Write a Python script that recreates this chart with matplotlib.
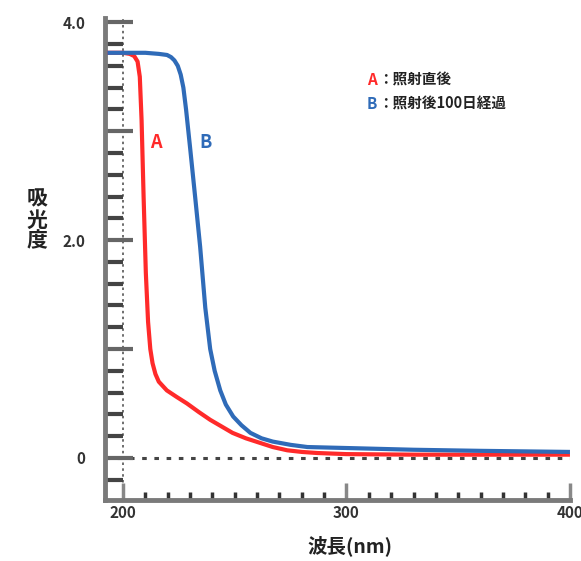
import matplotlib
matplotlib.use("Agg")
import matplotlib.pyplot as plt
from matplotlib.ticker import MultipleLocator, FixedLocator

plt.rcParams['font.family'] = ['Noto Sans CJK JP', 'DejaVu Sans']

# Data
wl_a = [193, 200, 203, 205, 206.5, 207.5, 208.3, 209.2, 210.2, 211.2, 212.2, 213.2, 214.5, 216, 219.6, 224, 228.6, 234, 239, 244, 249, 255, 261, 267, 273.5, 280, 287, 300, 330, 360, 400]
abs_a = [3.72, 3.72, 3.71, 3.69, 3.64, 3.50, 3.1, 2.4, 1.7, 1.25, 1.0, 0.87, 0.77, 0.70, 0.62, 0.56, 0.50, 0.42, 0.35, 0.29, 0.23, 0.18, 0.14, 0.10, 0.07, 0.055, 0.045, 0.035, 0.03, 0.03, 0.03]
wl_b = [193, 200, 210, 216, 219.7, 221.5, 223, 224.5, 225.8, 227, 228.2, 230, 232.3, 234.5, 236.8, 239, 241, 243.5, 246, 249.3, 253, 257, 262, 267, 275, 282.5, 292, 301.8, 330, 360, 400]
abs_b = [3.72, 3.72, 3.72, 3.71, 3.70, 3.68, 3.65, 3.60, 3.52, 3.40, 3.20, 2.85, 2.39, 1.94, 1.38, 1.00, 0.80, 0.62, 0.49, 0.38, 0.30, 0.23, 0.18, 0.15, 0.12, 0.10, 0.095, 0.09, 0.075, 0.065, 0.055]

legend_a = "：照射直後"
legend_b = "：照射後100日経過"
xlabel = "波長(nm)"
ylabel = "吸\n光\n度"
yticks_major = [0, 1, 2, 3, 4]
ytick_labels = ["0", "", "2.0", "", "4.0"]
xticks_major = [200, 300, 400]
xtick_labels = ["200", "300", "400"]

RED = "#ff2a2a"
BLUE = "#2f6bb8"

fig = plt.figure(figsize=(5.81, 5.61), dpi=100)
ax = fig.add_axes([0.181, 0.109, 0.800, 0.859])

ax.axvline(200, color="#555555", lw=1.2, ls=(0, (1.5, 2)), zorder=1)
ax.axhline(0, color="#444444", lw=2.2, ls=(0, (1.5, 2.5)), zorder=1)

ax.plot(wl_a, abs_a, color=RED, lw=3.0, solid_capstyle="butt", solid_joinstyle="round", zorder=3)
ax.plot(wl_b, abs_b, color=BLUE, lw=3.0, solid_capstyle="butt", solid_joinstyle="round", zorder=3)

ax.set_xlim(192, 400)
ax.set_ylim(-0.385, 4.04)

for s in ["top", "right"]:
    ax.spines[s].set_visible(False)
for s in ["left", "bottom"]:
    ax.spines[s].set_color("#7a7a7a")
    ax.spines[s].set_linewidth(3.5)

ax.yaxis.set_major_locator(FixedLocator(yticks_major))
ax.set_yticklabels(ytick_labels)
ax.yaxis.set_minor_locator(MultipleLocator(0.2))
ax.xaxis.set_major_locator(FixedLocator(xticks_major))
ax.set_xticklabels(xtick_labels)
ax.xaxis.set_minor_locator(MultipleLocator(10))

ax.tick_params(axis="y", which="major", direction="in", length=20, width=3, color="#666666", pad=14, labelsize=11)
ax.tick_params(axis="y", which="minor", direction="in", length=13, width=3, color="#444444")
ax.tick_params(axis="x", which="major", direction="in", length=12, width=2.5, color="#888888", pad=4, labelsize=11)
ax.tick_params(axis="x", which="minor", direction="in", length=6, width=2.5, color="#333333")
for lab in ax.get_yticklabels() + ax.get_xticklabels():
    lab.set_fontweight("bold")
    lab.set_color("#333333")

# curve labels
ax.text(214.5, 2.9, "A", color=RED, fontsize=13, fontweight="bold", ha="center", va="center", style="italic")
ax.text(237, 2.9, "B", color=BLUE, fontsize=13, fontweight="bold", ha="center", va="center")

# legend texts
fig.text(367 / 581, 1 - 80 / 561, "A", color=RED, fontsize=11, fontweight="bold", va="center")
fig.text(378 / 581, 1 - 80 / 561, legend_a, color="#222222", fontsize=10.5, fontweight="bold", va="center")
fig.text(367 / 581, 1 - 104 / 561, "B", color=BLUE, fontsize=11, fontweight="bold", va="center")
fig.text(378 / 581, 1 - 104 / 561, legend_b, color="#222222", fontsize=10.5, fontweight="bold", va="center")

fig.text(350 / 581, 1 - 546 / 561, xlabel, fontsize=14, fontweight="bold", ha="center", va="center", color="#222222")
fig.text(37 / 581, 1 - 220 / 561, ylabel, fontsize=15, fontweight="bold", ha="center", va="center", color="#222222", linespacing=1.0)

fig.savefig("out.png", dpi=100)
